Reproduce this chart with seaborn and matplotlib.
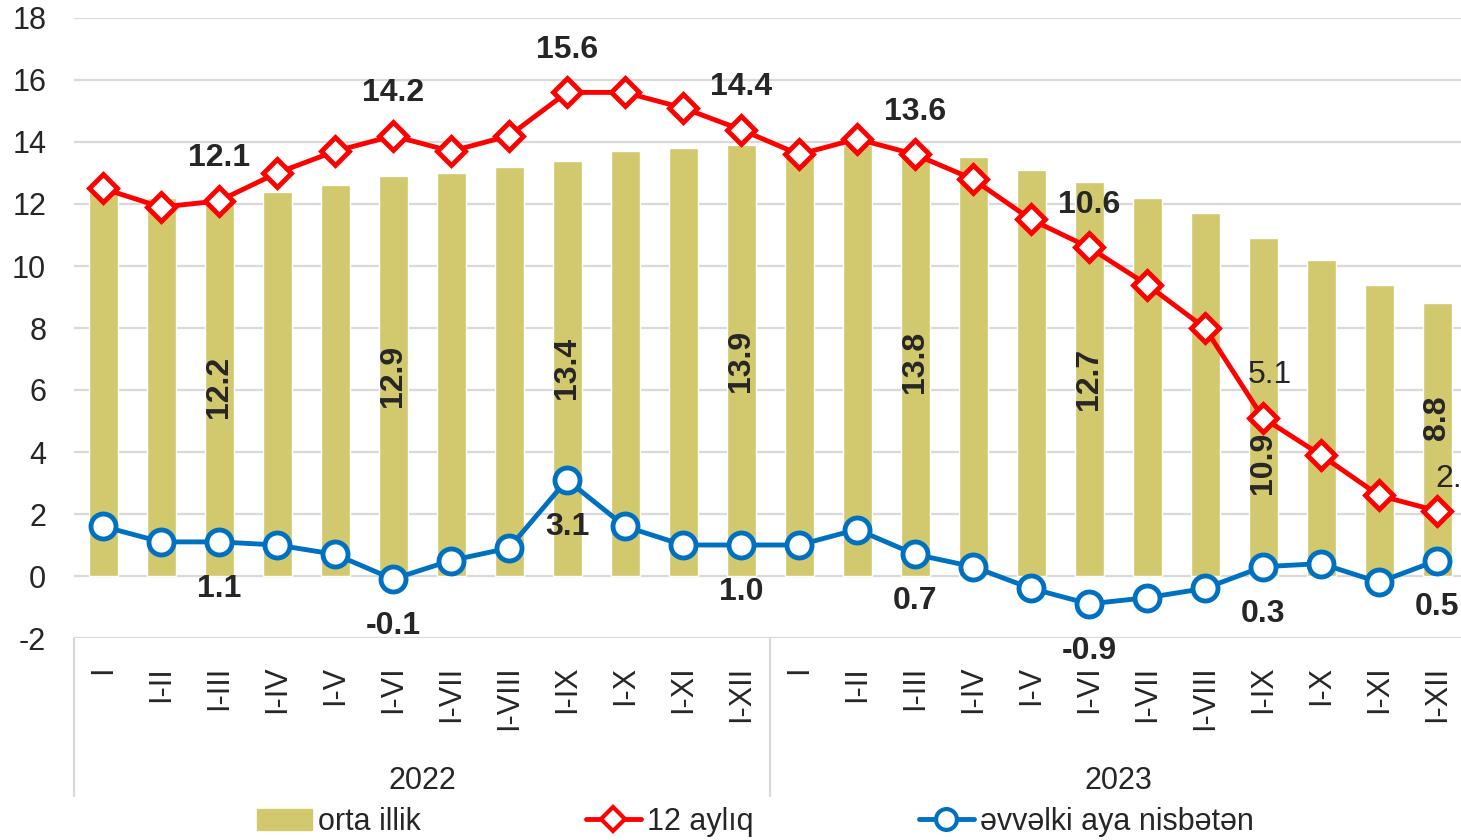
import numpy as np
import pandas as pd
import matplotlib.pyplot as plt
import seaborn as sns
from matplotlib.lines import Line2D
from matplotlib.patches import Patch

# Dovrler (kumulyativ aylar) ve iller
aylar = ['I', 'I-II', 'I-III', 'I-IV', 'I-V', 'I-VI', 'I-VII', 'I-VIII', 'I-IX', 'I-X', 'I-XI', 'I-XII']
iller = ['2022', '2023']

orta_illik = [12.5, 12.2, 12.2, 12.4, 12.6, 12.9, 13.0, 13.2, 13.4, 13.7, 13.8, 13.9,
              13.6, 13.9, 13.8, 13.5, 13.1, 12.7, 12.2, 11.7, 10.9, 10.2, 9.4, 8.8]
aylik_12 = [12.5, 11.9, 12.1, 13.0, 13.7, 14.2, 13.7, 14.2, 15.6, 15.6, 15.1, 14.4,
            13.6, 14.1, 13.6, 12.8, 11.5, 10.6, 9.4, 8.0, 5.1, 3.9, 2.6, 2.1]
evvelki_ay = [1.6, 1.1, 1.1, 1.0, 0.7, -0.1, 0.5, 0.9, 3.1, 1.6, 1.0, 1.0,
              1.0, 1.5, 0.7, 0.3, -0.4, -0.9, -0.7, -0.4, 0.3, 0.4, -0.2, 0.5]

# yalniz bu noqtelerde etiket var
etiket_idx = [2, 5, 8, 11, 14, 17, 20, 23]

n = len(orta_illik)
df = pd.DataFrame({'idx': np.arange(n), 'orta': orta_illik,
                   'a12': aylik_12, 'ay': evvelki_ay})

sns.set_style('white')
plt.rcParams['font.family'] = ['Liberation Sans', 'DejaVu Sans']
plt.rcParams['axes.unicode_minus'] = False

bar_c = '#D2C86E'
red = '#FF0000'
blue = '#0070C0'
grid_c = '#D9D9D9'

fig = plt.figure(figsize=(14.61, 8.4), dpi=100)
ax = fig.add_axes([74 / 1461, 202 / 840, 1392 / 1461, 620 / 840])

sns.barplot(data=df, x='idx', y='orta', color=bar_c, saturation=1, width=0.5,
            ax=ax, zorder=2)
sns.lineplot(data=df, x='idx', y='a12', color=red, lw=3.5, marker='D', ms=14,
             mfc='white', mec=red, mew=3.5, ax=ax, zorder=4)
sns.lineplot(data=df, x='idx', y='ay', color=blue, lw=3.5, marker='o', ms=18,
             mfc='white', mec=blue, mew=3.5, ax=ax, zorder=3)

ax.set_ylim(-2, 18)
ax.set_xlim(-0.5, n - 0.5)
ax.set_yticks(range(-2, 19, 2))
ax.yaxis.grid(True, color=grid_c, lw=1.6, zorder=0)
ax.set_axisbelow(True)
for s in ax.spines.values():
    s.set_visible(False)
ax.set_xlabel('')
ax.set_ylabel('')
ax.tick_params(axis='y', length=0, pad=20, labelsize=22)
ax.set_xticks(range(n))
ax.set_xticklabels(aylar * 2, rotation=90, va='top', fontsize=22)
ax.tick_params(axis='x', length=0, pad=20)

# kateqoriya qutusu
trans = ax.get_xaxis_transform()
for xv in [-0.5, 11.5, n - 0.5]:
    ax.plot([xv, xv], [0, -0.255], transform=trans, color=grid_c, lw=1.6, clip_on=False)
for k, il in enumerate(iller):
    ax.text(k * 12 + 5.5, -0.23, il, transform=trans, ha='center', va='center', fontsize=22)

# sutun etiketleri: 10.9 ve 8.8 yerinden bir az surusdurulub
bar_lbl_y = {20: 3.65, 23: 5.1}

for i in etiket_idx:
    ax.text(i, bar_lbl_y.get(i, orta_illik[i] / 2), f'{orta_illik[i]:.1f}', rotation=90,
            ha='center', va='center', fontsize=23, fontweight='bold', zorder=5)
    w = 'normal' if i in (20, 23) else 'bold'
    if i == 23:
        ax.annotate(f'{aylik_12[i]:.1f}', (i, aylik_12[i]), xytext=(-1, 12),
                    textcoords='offset points', ha='left', va='bottom', fontsize=23,
                    fontweight=w, zorder=5)
    elif i == 20:
        ax.annotate(f'{aylik_12[i]:.1f}', (i, aylik_12[i]), xytext=(5, 20),
                    textcoords='offset points', ha='center', va='bottom', fontsize=23,
                    fontweight=w, zorder=5)
    else:
        ax.annotate(f'{aylik_12[i]:.1f}', (i, aylik_12[i]), xytext=(0, 20),
                    textcoords='offset points', ha='center', va='bottom', fontsize=23,
                    fontweight=w, zorder=5)
    ax.annotate(f'{evvelki_ay[i]:.1f}', (i, evvelki_ay[i]), xytext=(0, -23),
                textcoords='offset points', ha='center', va='top', fontsize=23,
                fontweight='bold', zorder=5)

handles = [Patch(color=bar_c),
           Line2D([], [], color=red, lw=3.5, marker='D', ms=12, mfc='white', mec=red, mew=3),
           Line2D([], [], color=blue, lw=3.5, marker='o', ms=15, mfc='white', mec=blue, mew=3)]
fig.legend(handles, ['orta illik', '12 aylıq', 'əvvəlki aya nisbətən'], loc='center',
           bbox_to_anchor=(0.517, 18 / 840), ncol=3, frameon=False, fontsize=22,
           columnspacing=5.4, handlelength=1.8, handletextpad=0.2, borderpad=0)

plt.savefig('out.png', dpi=100)
